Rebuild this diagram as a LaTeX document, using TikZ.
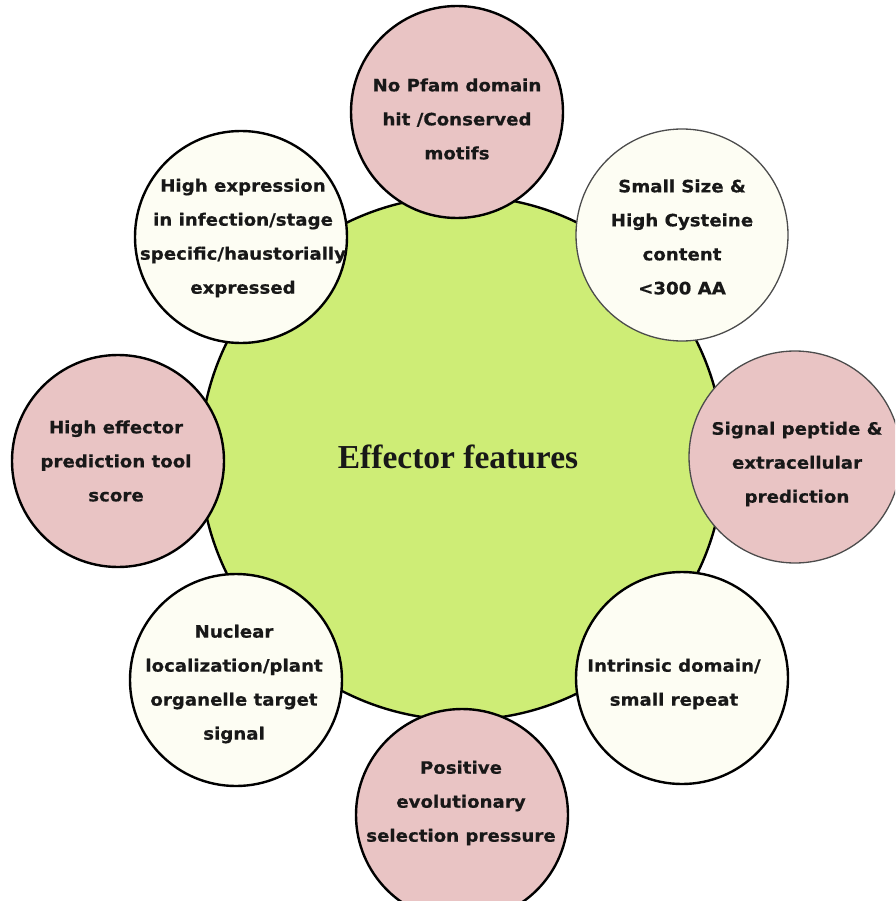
\documentclass[tikz,border=0pt]{standalone}
\usepackage{fontspec}
\newfontfamily\vfont{DejaVu Sans}[FakeStretch=1.07, FakeBold=0.6]
\newfontfamily\tfont{Liberation Serif}
\definecolor{hubgreen}{RGB}{206,237,118}
\definecolor{pinkfill}{RGB}{233,196,196}
\definecolor{creamfill}{RGB}{253,253,243}
\definecolor{txt}{RGB}{24,24,24}
\tikzset{
  hub/.style={circle, draw=black, line width=2.4pt, fill=hubgreen, minimum size=524pt, inner sep=0pt},
  pinkc/.style={circle, draw=black, line width=2.4pt, fill=pinkfill, minimum size=212pt, inner sep=0pt},
  creamc/.style={circle, draw=black, line width=2.4pt, fill=creamfill, minimum size=212pt, inner sep=0pt},
  thinedge/.style={draw=black!70, line width=1.3pt},
  lbl/.style={align=center, text=txt, inner sep=0pt, font=\vfont\bfseries\fontsize{17}{34}\selectfont},
  hubtext/.style={text=txt, inner sep=0pt, font=\tfont\bfseries\fontsize{33.5}{40}\selectfont}
}
\begin{document}
\begin{tikzpicture}[x=1pt,y=-1pt]
\useasboundingbox (0,0) rectangle (895,901);
\clip (0,0) rectangle (895,901);
\fill[white] (0,0) rectangle (895,901);
\node[hub] (hub) at (462,458) {};
\node[pinkc] (pfam) at (457,112) {};
\node[creamc, thinedge] (size) at (682,235) {};
\node[pinkc, thinedge] (signal) at (795,457) {};
\node[creamc] (intr) at (682,678) {};
\node[pinkc] (pos) at (462,815) {};
\node[creamc] (nuc) at (236,680) {};
\node[pinkc] (tool) at (118,461) {};
\node[creamc] (expr) at (241,237) {};
\node[hubtext] (hubt) at (458,457) {Effector features};
\node[lbl] (pfamt) at (457,119) {No Pfam domain\\hit /Conserved\\motifs};
\node[lbl] (sizet) at (682,237) {Small Size \&\\High Cysteine\\content\\<300 AA};
\node[lbl] (signalt) at (797,464) {Signal peptide \&\\extracellular\\prediction};
\node[lbl] (intrt) at (674,684) {Intrinsic domain/\\small repeat};
\node[lbl] (post) at (461,803) {Positive\\evolutionary\\selection pressure};
\node[lbl] (nuct) at (234,684) {Nuclear\\localization/plant\\organelle target\\signal};
\node[lbl] (toolt) at (116,461) {High effector\\prediction tool\\score};
\node[lbl] (exprt) at (243,238) {High expression\\in infection/stage\\specific/haustorially\\expressed};
\end{tikzpicture}
\end{document}
